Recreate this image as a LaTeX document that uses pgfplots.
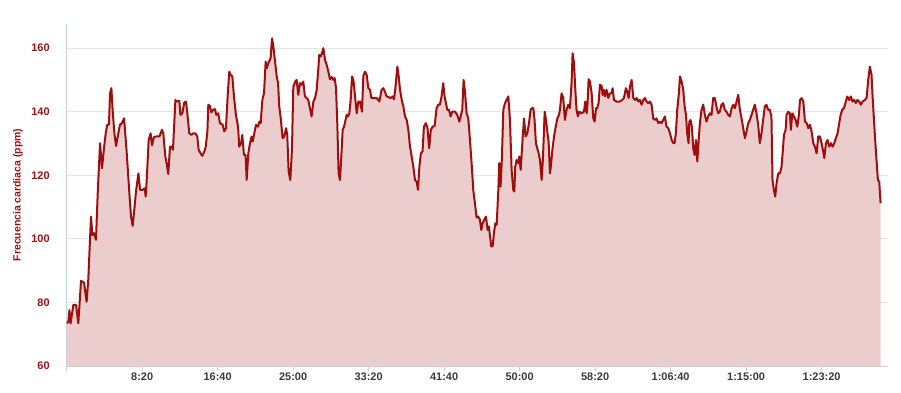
\documentclass[border=0pt]{standalone}
\usepackage{pgfplots}
\pgfplotsset{compat=1.18}
\usepackage{pgfplotstable}
\usepackage{fontspec}
\setmainfont{Liberation Sans}
\definecolor{hrline}{HTML}{A00D0D}
\definecolor{hrfill}{HTML}{EBCDCD}
\definecolor{axisln}{HTML}{C0D0E0}
\definecolor{gridln}{HTML}{E4E4E4}
\definecolor{ylab}{HTML}{A01010}
\definecolor{xlab}{HTML}{3A3A3A}

\pgfplotstableread{
t hr
0 73.4
11 73.9
18 77.6
26 73.4
44 79.2
62 79.2
77 73.4
95 86.8
115 86.2
132 80.2
143 87.1
161 107.0
170 101.2
181 101.8
194 99.7
205 113.8
221 130.1
234 122.2
247 128.5
260 133.8
269 135.9
280 135.9
287 145.8
296 147.4
305 140.0
316 133.2
327 129.2
338 132.2
353 135.9
366 136.4
380 137.9
397 127.5
415 114.4
426 107.0
437 104.1
450 110.2
459 114.9
475 120.6
486 115.4
503 115.4
517 115.9
523 113.3
530 118.5
543 131.1
556 133.2
565 129.4
578 132.0
592 132.2
614 132.2
631 134.3
640 133.2
653 125.9
662 123.8
673 120.4
684 129.0
695 129.0
704 128.0
720 143.7
728 143.2
746 143.4
753 139.0
766 139.5
779 142.9
790 143.2
799 139.5
812 133.2
826 132.7
839 133.2
852 133.2
865 132.2
874 128.0
887 126.9
898 126.1
912 127.5
921 129.0
932 133.8
938 142.2
949 141.8
958 139.8
971 140.6
982 140.8
991 139.0
1004 139.5
1015 136.4
1033 135.9
1044 133.8
1055 134.8
1066 144.8
1077 152.6
1086 151.6
1097 151.1
1108 144.8
1121 139.0
1135 135.3
1143 129.0
1155 130.1
1163 132.7
1174 126.4
1185 126.4
1192 118.5
1203 126.9
1214 130.1
1225 132.2
1232 130.6
1245 133.8
1254 135.9
1267 135.3
1276 136.9
1285 136.4
1296 143.7
1307 145.8
1318 155.8
1325 153.7
1336 155.3
1351 156.9
1360 163.1
1369 160.5
1380 155.8
1391 151.1
1400 149.0
1408 141.6
1419 137.4
1430 131.7
1441 132.2
1453 134.8
1461 132.7
1470 121.2
1481 118.5
1492 128.0
1501 147.9
1514 149.5
1523 150.0
1534 145.3
1545 149.0
1556 148.5
1567 149.5
1578 144.8
1589 144.3
1600 143.7
1611 141.1
1622 138.5
1634 143.2
1645 144.3
1656 146.9
1667 153.7
1673 157.9
1682 157.4
1691 158.4
1700 160.0
1711 156.3
1722 154.7
1733 152.6
1744 150.2
1755 150.9
1766 150.0
1775 150.6
1784 147.4
1793 135.3
1801 120.6
1810 118.5
1819 125.9
1828 134.3
1837 135.3
1845 136.9
1854 139.0
1863 138.5
1872 139.5
1881 143.7
1890 151.1
1899 150.0
1910 144.8
1921 139.5
1932 143.2
1943 143.2
1956 140.0
1965 151.3
1976 152.6
1987 151.6
1998 147.4
2009 146.9
2018 144.3
2031 144.3
2053 144.3
2071 143.2
2086 146.9
2097 147.4
2108 146.3
2119 144.8
2132 144.6
2146 144.3
2159 144.8
2168 143.9
2177 147.4
2190 154.2
2199 151.1
2208 146.9
2219 143.7
2230 141.6
2241 138.5
2252 137.4
2263 134.3
2274 129.0
2285 125.9
2296 122.7
2307 118.5
2318 118.0
2327 115.4
2336 122.7
2346 126.9
2357 127.5
2366 135.3
2379 136.4
2390 134.8
2401 128.5
2412 134.3
2424 135.3
2437 135.5
2450 141.1
2461 142.2
2472 142.2
2483 144.8
2494 149.0
2503 144.8
2512 142.7
2521 140.6
2532 140.6
2543 138.5
2554 140.0
2572 140.0
2587 139.0
2601 136.9
2612 139.0
2620 140.6
2629 150.0
2638 146.3
2649 139.5
2660 137.9
2671 131.1
2682 123.8
2693 115.4
2704 111.2
2715 106.7
2726 107.0
2737 106.0
2746 102.8
2755 104.9
2766 106.0
2777 107.0
2788 102.8
2797 103.9
2803 101.2
2812 97.6
2821 97.6
2830 101.8
2839 104.9
2848 104.4
2859 115.4
2865 123.8
2874 116.4
2883 125.9
2892 140.6
2903 142.7
2914 143.7
2925 144.8
2936 137.4
2947 121.7
2958 115.4
2965 114.9
2971 122.7
2980 124.8
2991 123.8
2998 125.9
3007 121.7
3018 130.1
3029 137.9
3040 132.2
3051 133.2
3062 136.4
3073 140.6
3082 141.1
3091 141.1
3099 137.4
3108 130.1
3117 128.5
3126 126.9
3135 124.8
3146 118.5
3155 125.9
3166 140.0
3175 137.4
3183 133.8
3192 130.6
3201 120.6
3208 123.3
3217 128.0
3228 132.2
3239 135.3
3250 137.9
3261 139.0
3267 140.6
3278 145.8
3289 144.3
3300 137.4
3311 140.6
3322 142.2
3333 141.1
3344 149.0
3351 158.4
3360 155.3
3369 146.9
3377 140.6
3386 138.5
3395 140.0
3410 139.5
3426 140.0
3435 143.2
3444 139.5
3450 142.7
3457 150.2
3466 149.5
3477 145.8
3488 137.9
3497 136.9
3506 141.1
3514 141.1
3523 142.7
3532 148.5
3543 148.1
3550 145.3
3558 146.9
3565 144.8
3576 146.9
3587 144.3
3598 145.8
3609 145.8
3616 147.4
3625 143.7
3642 143.2
3664 143.2
3678 143.7
3691 144.3
3704 147.4
3713 146.3
3722 144.3
3731 147.9
3742 150.0
3753 144.3
3764 143.7
3775 144.3
3786 143.2
3797 143.7
3808 142.2
3819 143.7
3830 144.3
3841 143.2
3852 142.7
3863 143.2
3874 142.2
3885 137.9
3896 137.4
3907 137.9
3918 136.4
3929 136.9
3940 136.4
3951 137.4
3962 138.5
3973 135.3
3985 134.8
3996 133.2
4007 131.1
4018 130.1
4026 130.1
4035 133.2
4044 140.6
4055 145.8
4062 151.1
4073 149.5
4084 146.9
4093 141.6
4102 139.0
4110 133.2
4119 130.1
4124 136.9
4132 137.4
4141 135.3
4150 128.5
4159 126.4
4168 131.1
4177 124.3
4186 131.1
4194 136.4
4205 140.6
4216 142.2
4227 139.0
4238 136.9
4249 138.5
4260 139.5
4271 139.0
4282 144.3
4293 144.3
4304 141.6
4315 139.5
4326 140.0
4337 142.2
4348 142.7
4359 140.6
4370 140.0
4382 139.0
4393 138.5
4404 141.1
4415 142.2
4426 141.1
4437 143.2
4448 145.3
4459 140.6
4470 137.9
4481 134.8
4492 131.7
4503 133.8
4514 136.4
4525 137.4
4536 139.0
4547 140.6
4558 142.2
4569 139.5
4580 135.9
4591 130.1
4602 133.2
4613 137.4
4624 141.6
4635 142.2
4646 140.6
4657 140.6
4668 138.5
4675 118.5
4684 115.4
4693 113.3
4702 117.5
4713 120.6
4724 120.6
4735 122.7
4742 126.9
4751 132.7
4762 134.3
4768 139.0
4779 140.0
4790 139.5
4797 134.3
4806 139.5
4817 138.5
4828 137.4
4839 135.3
4850 139.0
4857 143.7
4868 144.3
4879 143.2
4890 136.9
4901 136.4
4912 134.8
4923 135.9
4934 133.8
4945 130.1
4956 129.0
4967 126.9
4978 132.2
4989 132.2
5000 130.1
5011 127.5
5018 125.4
5029 130.1
5040 131.1
5051 129.0
5062 130.1
5073 129.0
5084 130.1
5095 131.7
5106 133.2
5117 136.4
5126 139.0
5137 140.6
5148 141.1
5161 143.2
5170 144.8
5183 143.7
5194 144.8
5205 143.2
5216 143.7
5227 142.7
5238 143.7
5249 143.2
5260 142.2
5271 143.2
5287 143.7
5298 144.3
5309 150.0
5320 154.2
5331 151.6
5338 144.8
5347 137.4
5355 131.1
5364 124.8
5373 118.5
5382 118.0
5391 111.2
}\hrdata

\begin{document}
\begin{tikzpicture}
\begin{axis}[
  at={(0,0)}, anchor=south west,
  scale only axis, width=821.4bp, height=342bp,
  xmin=0, xmax=5440, ymin=60, ymax=167.6,
  axis lines*=left,
  axis line style={draw=axisln, line width=0.8bp},
  xtick={0,500,...,5000},
  xticklabels={,8:20,16:40,25:00,33:20,41:40,50:00,58:20,1:06:40,1:15:00,1:23:20},
  ytick={60,80,...,160},
  /pgf/number format/assume math mode=true,
  ymajorgrids,
  major grid style={draw=gridln, line width=0.8bp},
  tick align=outside,
  major tick length=5bp,
  xtick style={draw=axisln, line width=0.8bp},
  ytick style={draw=none},
  xticklabel style={font=\fontsize{11}{13}\selectfont\bfseries, text=xlab, yshift=1.5bp},
  yticklabel style={font=\fontsize{11}{13}\selectfont\bfseries, text=ylab, xshift=-8.5bp},
  ylabel={Frecuencia cardiaca (ppm)},
  every axis y label/.style={at={(axis description cs:-0.0593,0.5)}, rotate=90, anchor=center,
     font=\fontsize{10.5}{12}\selectfont\bfseries, text=ylab},
  clip=true,
]
\addplot[draw=none, fill=hrfill] table[x=t, y=hr] {\hrdata} \closedcycle;
\addplot[draw=hrline, line width=2bp, line join=round, mark=none] table[x=t, y=hr] {\hrdata};
\end{axis}
\pgfresetboundingbox
\useasboundingbox (-66.7bp,-27bp) rectangle (834.4bp,366bp);
\end{tikzpicture}
\end{document}
